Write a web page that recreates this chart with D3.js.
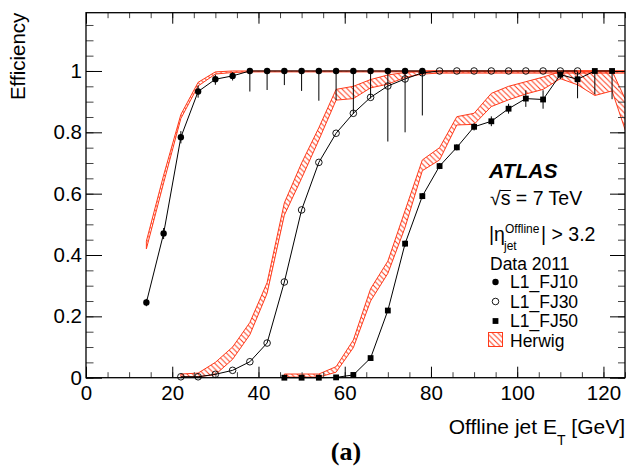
<!DOCTYPE html>
<html><head><meta charset="utf-8">
<script src="https://cdn.jsdelivr.net/npm/d3@7"></script>
<style>html,body{margin:0;padding:0;background:#fff;}svg{display:block;}</style>
</head><body>
<script>
// ---------------- DATA ----------------
const xFJ10   = [14,18,22,26,30,34,38,42,46,50,54,58,62,66,70,74,78];
const effFJ10 = [0.245,0.47,0.784,0.933,0.973,0.984,1,1,1,1,1,1,1,1,1,1,1];
const errLoFJ10 = [0.012,0.018,0.02,0.02,0.018,0.015,0.067,0.062,0.046,0.065,0.097,0.095,0.14,0.09,0.23,0.2,0.145];
const errHiFJ10 = [0.012,0.018,0.02,0.02,0.015,0.012,0,0,0,0,0,0,0,0,0,0,0];

const xFJ30   = [22,26,30,34,38,42,46,50,54,58,62,66,70,74,78,82,86,90,94,98,102,106,110,114];
const effFJ30 = [0.003,0.003,0.011,0.024,0.052,0.113,0.312,0.547,0.702,0.797,0.862,0.914,0.951,0.974,0.994,1,1,1,1,1,1,1,1,1];

const xFJ50   = [46,50,54,58,62,66,70,74,78,82,86,90,94,98,102,106,110,114,118,122];
const effFJ50 = [0,0,0,0.001,0.009,0.064,0.219,0.437,0.592,0.69,0.751,0.818,0.836,0.877,0.91,0.907,0.988,0.973,1,1];
const errLoFJ50 = [0,0,0,0,0.003,0.006,0.008,0.01,0.01,0.01,0.01,0.012,0.016,0.016,0.027,0.03,0.015,0.062,0.076,0.092];
const errHiFJ50 = [0,0,0,0,0.003,0.006,0.008,0.01,0.01,0.01,0.01,0.012,0.016,0.016,0.027,0.03,0.01,0.025,0,0];

// Herwig bands
const bandX10  = [14,18,22,26,30,34,38,42,46,50,54,58,62,66,70,74,78,82,86,90,94,98,102,106,110,114,118,122,126];
const bandLo10 = [0.42,0.635,0.845,0.951,0.99,0.995,0.997,0.997,0.997,0.997,0.997,0.997,0.997,0.997,0.997,0.997,0.997,0.997,0.997,0.997,0.997,0.997,0.997,0.997,0.997,0.997,0.997,0.997,0.997];
const bandHi10 = [0.445,0.66,0.858,0.963,0.997,1,1,1,1,1,1,1,1,1,1,1,1,1,1,1,1,1,1,1,1,1,1,1,1];

const bandX30  = [22,26,30,34,38,42,46,50,54,58,62,66,70,74,78,82,86,90,94,98,102,106,110,114,118,122,126];
const bandLo30 = [0.003,0.003,0.01,0.06,0.14,0.275,0.53,0.65,0.775,0.905,0.91,0.945,0.957,0.979,0.99,0.993,0.993,0.993,0.993,0.993,0.993,0.993,0.993,0.993,0.993,0.993,0.993];
const bandHi30 = [0.012,0.015,0.05,0.1,0.18,0.31,0.57,0.70,0.815,0.94,0.95,0.972,0.987,0.995,1,1,1,1,1,1,1,1,1,1,1,1,1];

const bandX50  = [46,50,54,58,62,66,70,74,78,82,86,90,94,98,102,106,110,114,118,122,126];
const bandLo50 = [0.002,0.002,0.002,0.018,0.098,0.25,0.34,0.49,0.675,0.71,0.824,0.826,0.884,0.906,0.925,0.94,0.975,0.955,0.92,0.935,0.768];
const bandHi50 = [0.012,0.012,0.012,0.036,0.123,0.29,0.38,0.545,0.71,0.75,0.851,0.862,0.927,0.95,0.965,0.98,0.998,1,1,1,0.88];

const xTicks = [0,20,40,60,80,100,120];
const xTickLabels = ["0","20","40","60","80","100","120"];
const yTicks = [0,0.2,0.4,0.6,0.8,1];
const yTickLabels = ["0","0.2","0.4","0.6","0.8","1"];
const legendLabels = ["L1_FJ10","L1_FJ30","L1_FJ50","Herwig"];

// ---------------- LAYOUT ----------------
const W = 627, H = 467;
const L = 86, R = 625, T = 12.7, B = 377.7;
const RED = "#ff3a1a";
const FONT = "'Liberation Sans', Arial, Helvetica, sans-serif";

const x = d3.scaleLinear().domain([0,125]).range([L,R]);
const y = d3.scaleLinear().domain([0,1.19]).range([B,T]);

const svg = d3.select("body").append("svg").attr("width",W).attr("height",H)
  .style("font-family",FONT);

const defs = svg.append("defs");
const pat = defs.append("pattern").attr("id","hatch").attr("patternUnits","userSpaceOnUse")
  .attr("width",5.5).attr("height",5.5);
pat.append("path").attr("d","M0,0L5.5,5.5M-1,4.5L1,6.5M4.5,-1L6.5,1")
  .attr("stroke",RED).attr("stroke-width",1).attr("fill","none");
defs.append("clipPath").attr("id","plotclip").append("rect")
  .attr("x",L).attr("y",T).attr("width",R-L).attr("height",B-T);

// ---------------- BANDS ----------------
const area = d3.area().x(d=>x(d[0])).y0(d=>y(d[1])).y1(d=>y(d[2]));
const gb = svg.append("g").attr("clip-path","url(#plotclip)");
function band(xs,lo,hi){
  const pts = xs.map((v,i)=>[v,lo[i],hi[i]]);
  gb.append("path").attr("d",area(pts)+"Z")
    .attr("fill","url(#hatch)").attr("stroke",RED).attr("stroke-width",1);
}
band(bandX10,bandLo10,bandHi10);
band(bandX30,bandLo30,bandHi30);
band(bandX50,bandLo50,bandHi50);

// ---------------- AXES ----------------
function styleAxis(g, col){
  g.select(".domain").remove();
  g.selectAll(".tick line").attr("stroke",col).attr("stroke-width",1);
  g.selectAll(".tick text").attr("fill","#000").style("font-size","20.5px").style("font-family",FONT);
}
const xMinor = d3.range(0,126,5);
const yMinor = d3.range(0,1.19,0.05);
styleAxis(svg.append("g").attr("transform",`translate(0,${B})`)
  .call(d3.axisBottom(x).tickValues(xMinor).tickFormat("").tickSizeInner(-5.5).tickSizeOuter(0)),"#444");
styleAxis(svg.append("g").attr("transform",`translate(0,${B})`)
  .call(d3.axisBottom(x).tickValues(xTicks).tickFormat((d,i)=>xTickLabels[i]).tickSizeInner(-11).tickSizeOuter(0).tickPadding(8)),"#000");
styleAxis(svg.append("g").attr("transform",`translate(0,${T})`)
  .call(d3.axisTop(x).tickValues(xMinor).tickFormat("").tickSizeInner(-5.5).tickSizeOuter(0)),"#444");
styleAxis(svg.append("g").attr("transform",`translate(0,${T})`)
  .call(d3.axisTop(x).tickValues(xTicks).tickFormat("").tickSizeInner(-11).tickSizeOuter(0)),"#000");
styleAxis(svg.append("g").attr("transform",`translate(${L},0)`)
  .call(d3.axisLeft(y).tickValues(yMinor).tickFormat("").tickSizeInner(-7.5).tickSizeOuter(0)),"#444");
styleAxis(svg.append("g").attr("transform",`translate(${L},0)`)
  .call(d3.axisLeft(y).tickValues(yTicks).tickFormat((d,i)=>yTickLabels[i]).tickSizeInner(-16).tickSizeOuter(0).tickPadding(4)),"#000");
styleAxis(svg.append("g").attr("transform",`translate(${R},0)`)
  .call(d3.axisRight(y).tickValues(yMinor).tickFormat("").tickSizeInner(-7).tickSizeOuter(0)),"#444");
styleAxis(svg.append("g").attr("transform",`translate(${R},0)`)
  .call(d3.axisRight(y).tickValues(yTicks).tickFormat("").tickSizeInner(-15).tickSizeOuter(0)),"#000");

svg.append("rect").attr("x",L).attr("y",T).attr("width",R-L).attr("height",B-T)
  .attr("fill","none").attr("stroke","#000").attr("stroke-width",1.3);

// ---------------- DATA SERIES ----------------
const line = d3.line().x(d=>x(d[0])).y(d=>y(d[1]));
const gd = svg.append("g");
function series(xs,ys,lo,hi,marker){
  const pts = xs.map((v,i)=>[v,ys[i]]);
  gd.append("path").attr("d",line(pts)).attr("fill","none").attr("stroke","#000").attr("stroke-width",1);
  if(lo){
    gd.selectAll(null).data(pts).enter().append("line")
      .attr("x1",d=>x(d[0])).attr("x2",d=>x(d[0]))
      .attr("y1",(d,i)=>y(d[1]-lo[i])).attr("y2",(d,i)=>y(d[1]+hi[i]))
      .attr("stroke","#000").attr("stroke-width",1);
  }
  drawMarkers(gd,pts.map(d=>[x(d[0]),y(d[1])]),marker);
}
function drawMarkers(g,pxs,marker){
  if(marker==="filled"){
    g.selectAll(null).data(pxs).enter().append("circle")
      .attr("cx",d=>d[0]).attr("cy",d=>d[1]).attr("r",3.2).attr("fill","#000");
  } else if(marker==="open"){
    g.selectAll(null).data(pxs).enter().append("circle")
      .attr("cx",d=>d[0]).attr("cy",d=>d[1]).attr("r",3.3).attr("fill","none")
      .attr("stroke","#000").attr("stroke-width",0.9);
  } else {
    g.selectAll(null).data(pxs).enter().append("rect")
      .attr("x",d=>d[0]-2.9).attr("y",d=>d[1]-2.9).attr("width",5.8).attr("height",5.8).attr("fill","#000");
  }
}
series(xFJ30,effFJ30,null,null,"open");
series(xFJ50,effFJ50,errLoFJ50,errHiFJ50,"square");
series(xFJ10,effFJ10,errLoFJ10,errHiFJ10,"filled");

// ---------------- TEXTS ----------------
svg.append("text").attr("transform",`translate(25,${T}) rotate(-90)`)
  .attr("text-anchor","end").style("font-size","20.5px").text("Efficiency");

const xt = svg.append("text").attr("x",R).attr("y",434).attr("text-anchor","end").style("font-size","21px");
xt.append("tspan").text("Offline jet E");
xt.append("tspan").attr("dy",11).style("font-size","14px").text("T");
xt.append("tspan").attr("dy",-11).text(" [GeV]");

svg.append("text").attr("x",346).attr("y",460).attr("text-anchor","middle")
  .style("font-family","'Liberation Serif','Times New Roman',serif").style("font-weight","bold")
  .style("font-size","26px").text("(a)");

svg.append("text").attr("x",489).attr("y",177.5).style("font-size","21px")
  .style("font-weight","bold").style("font-style","italic").text("ATLAS");

const sq = svg.append("text").attr("x",490).attr("y",205).style("font-size","19.5px").text("√s = 7 TeV");
const wRoot = sq.node().getSubStringLength(0,1), wS = sq.node().getSubStringLength(1,1);
svg.append("line").attr("x1",490+wRoot-0.5).attr("x2",490+wRoot+wS+0.5).attr("y1",190.5).attr("y2",190.5)
  .attr("stroke","#000").attr("stroke-width",1);

svg.append("text").attr("x",489).attr("y",241).style("font-size","19.5px").text("|η");
svg.append("text").attr("x",505).attr("y",233).style("font-size","12px").text("Offline");
svg.append("text").attr("x",504).attr("y",250).style("font-size","12px").text("jet");
svg.append("text").attr("x",541).attr("y",241).style("font-size","19.5px").text("| > 3.2");
svg.append("text").attr("x",490).attr("y",269.5).style("font-size","17.5px").text("Data 2011");

const legY = [288,307.5,327,346.5];
const mk = ["filled","open","square"];
mk.forEach((m,i)=>{
  drawMarkers(svg, [[495.5, legY[i]-6]], m);
});
svg.append("rect").attr("x",488.5).attr("y",legY[3]-14).attr("width",14).attr("height",14)
  .attr("fill","url(#hatch)").attr("stroke",RED).attr("stroke-width",1);
legendLabels.forEach((t,i)=>{
  svg.append("text").attr("x",510).attr("y",legY[i]).style("font-size","17.5px").text(t);
});
</script>
</body></html>
